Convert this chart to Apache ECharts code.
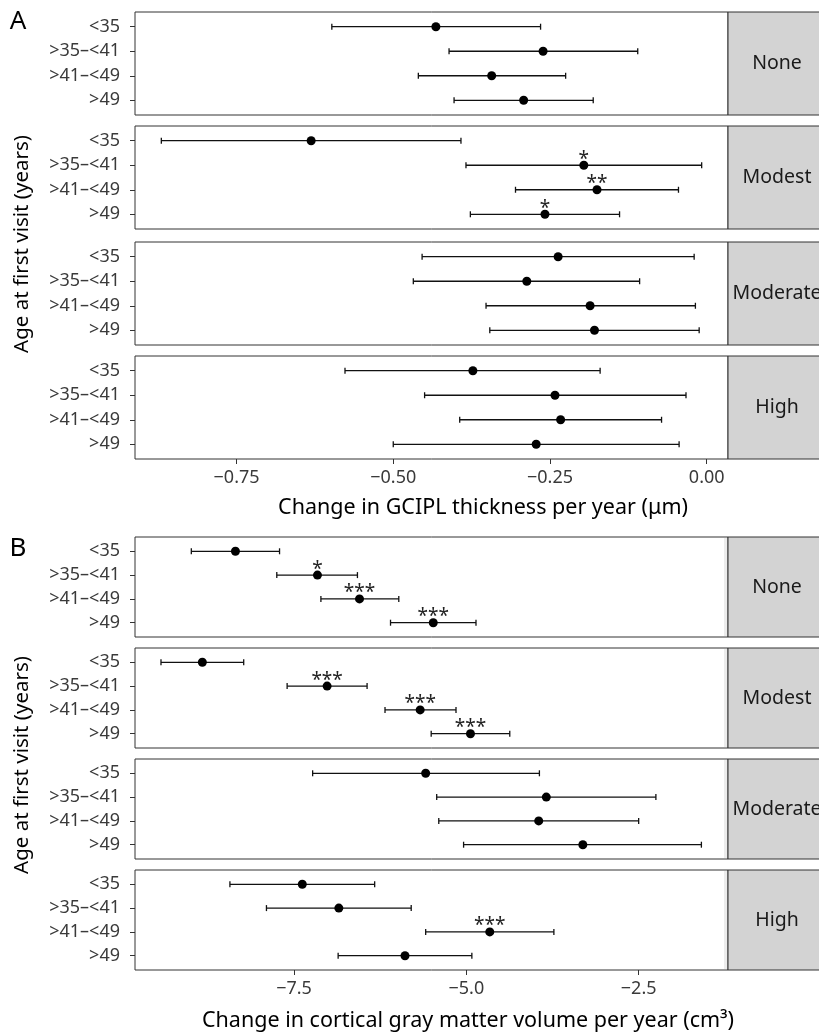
<!DOCTYPE html>
<html>
<head>
<meta charset="utf-8">
<script src="https://cdn.jsdelivr.net/npm/echarts@6/dist/echarts.min.js"></script>
<style>
  html, body { margin: 0; padding: 0; background: #fff; }
  #chart { width: 819px; height: 1034px; }
</style>
</head>
<body>
<div id="chart"></div>
<script>
// categories
const ageGroups = ['<35', '>35–<41', '>41–<49', '>49']
const exposures = ['None', 'Modest', 'Moderate', 'High']

// panel A: GCIPL thickness change (µm / year), one row per exposure
const gciplEst = [
  [-0.432, -0.261, -0.343, -0.292],
  [-0.631, -0.196, -0.175, -0.258],
  [-0.237, -0.287, -0.186, -0.179],
  [-0.373, -0.242, -0.233, -0.272]
]
const gciplLow = [
  [-0.598, -0.411, -0.460, -0.403],
  [-0.870, -0.384, -0.305, -0.377],
  [-0.454, -0.468, -0.352, -0.346],
  [-0.577, -0.450, -0.394, -0.500]
]
const gciplHigh = [
  [-0.265, -0.110, -0.225, -0.181],
  [-0.392, -0.008, -0.045, -0.139],
  [-0.020, -0.107, -0.018, -0.012],
  [-0.170, -0.033, -0.072, -0.044]
]
const gciplStars = [
  ['', '', '', ''],
  ['', '*', '**', '*'],
  ['', '', '', ''],
  ['', '', '', '']
]
const gciplTicks = [-0.75, -0.5, -0.25, 0]

// panel B: cortical gray matter volume change (cm3 / year)
const gmEst = [
  [-8.35, -7.16, -6.55, -5.48],
  [-8.83, -7.02, -5.67, -4.94],
  [-5.59, -3.84, -3.95, -3.31],
  [-7.38, -6.85, -4.66, -5.89]
]
const gmLow = [
  [-8.99, -7.75, -7.11, -6.10],
  [-9.43, -7.60, -6.18, -5.51],
  [-7.23, -5.43, -5.40, -5.04],
  [-8.43, -7.90, -5.59, -6.86]
]
const gmHigh = [
  [-7.71, -6.58, -5.98, -4.86],
  [-8.23, -6.44, -5.15, -4.37],
  [-3.94, -2.25, -2.50, -1.59],
  [-6.33, -5.80, -3.73, -4.92]
]
const gmStars = [
  ['', '*', '***', '***'],
  ['', '***', '***', '***'],
  ['', '', '', ''],
  ['', '', '***', '']
]
const gmTicks = [-7.5, -5, -2.5]

const FONT = 'Noto Sans'

// layout of the two panels
const panels = [
  {
    tag: 'A', tagY: 22,
    tops: [12, 126, 242, 356], height: 103,
    min: -0.912, max: 0.034,
    est: gciplEst, low: gciplLow, high: gciplHigh, stars: gciplStars, ticks: gciplTicks,
    fmt: v => (v < 0 ? '−' : '') + Math.abs(v).toFixed(2),
    xTitle: 'Change in GCIPL thickness per year (μm)', xTitleX: 483, xTitleY: 508, yTitleY: 244
  },
  {
    tag: 'B', tagY: 549,
    tops: [537, 648, 759, 870], height: 100,
    min: -9.807, max: -1.204,
    est: gmEst, low: gmLow, high: gmHigh, stars: gmStars, ticks: gmTicks,
    fmt: v => (v < 0 ? '−' : '') + Math.abs(v).toFixed(1),
    xTitle: 'Change in cortical gray matter volume per year (cm³)', xTitleX: 468, xTitleY: 1021, yTitleY: 765
  }
]

const plotLeft = 135
const plotRight = 728
const stripW = 98

const grid = [], xAxis = [], yAxis = [], series = [], graphic = []

panels.forEach((p, pi) => {
  p.tops.forEach((top, f) => {
    const g = pi * 4 + f
    const bottom = f === 3
    grid.push({
      left: plotLeft, top: top, width: plotRight - plotLeft, height: p.height,
      show: true, backgroundColor: '#fff', borderColor: '#333', borderWidth: 1
    })
    xAxis.push({
      gridIndex: g, type: 'value', min: p.min, max: p.max, position: 'bottom',
      axisLine: { show: false, onZero: false },
      splitLine: { show: false },
      axisTick: { show: bottom, customValues: p.ticks, length: 5, lineStyle: { color: '#333' } },
      axisLabel: {
        show: bottom, customValues: p.ticks, formatter: p.fmt,
        fontFamily: FONT, fontSize: 18, color: '#3a3a3a', margin: 10
      }
    })
    yAxis.push({
      gridIndex: g, type: 'value', inverse: true, min: -0.6, max: 3.6, position: 'left',
      axisLine: { show: false, onZero: false },
      splitLine: { show: false },
      axisTick: { show: true, customValues: [0, 1, 2, 3], length: 5, lineStyle: { color: '#333' } },
      axisLabel: {
        customValues: [0, 1, 2, 3], formatter: v => ageGroups[Math.round(v)],
        fontFamily: FONT, fontSize: 18, color: '#3a3a3a', margin: 15
      }
    })

    // confidence intervals with end caps
    series.push({
      type: 'custom', xAxisIndex: g, yAxisIndex: g,
      data: ageGroups.map((a, i) => [p.low[f][i], p.high[f][i], i]),
      encode: { x: [0, 1], y: 2 },
      renderItem(params, api) {
        const y = api.value(2)
        const a = api.coord([api.value(0), y])
        const b = api.coord([api.value(1), y])
        const st = { stroke: '#111', lineWidth: 1.3 }
        return {
          type: 'group',
          children: [
            { type: 'line', shape: { x1: a[0], y1: a[1], x2: b[0], y2: b[1] }, style: st },
            { type: 'line', shape: { x1: a[0], y1: a[1] - 3, x2: a[0], y2: a[1] + 3 }, style: st },
            { type: 'line', shape: { x1: b[0], y1: b[1] - 3, x2: b[0], y2: b[1] + 3 }, style: st }
          ]
        }
      },
      silent: true, z: 2
    })

    // point estimates with significance stars
    series.push({
      type: 'scatter', xAxisIndex: g, yAxisIndex: g,
      data: p.est[f].map((v, i) => [v, i, p.stars[f][i]]),
      symbolSize: 9,
      itemStyle: { color: '#000', opacity: 1 },
      label: {
        show: true, position: 'top', distance: -8,
        formatter: d => d.data[2],
        fontFamily: FONT, fontSize: 19, color: '#222'
      },
      silent: true, z: 3
    })

    // facet strip on the right
    graphic.push({
      type: 'rect',
      shape: { x: plotRight, y: top, width: stripW, height: p.height },
      style: { fill: '#d3d3d3', stroke: '#333', lineWidth: 1 },
      z: 10
    })
    graphic.push({
      type: 'text',
      x: plotRight + stripW / 2, y: top + p.height / 2,
      style: {
        text: exposures[f], fontFamily: FONT, fontSize: 19.5, fill: '#1a1a1a',
        align: 'center', verticalAlign: 'middle'
      },
      z: 11
    })
    if (pi === 1) {
      graphic.push({
        type: 'rect',
        shape: { x: plotRight - 4, y: top + 1, width: 3, height: p.height - 2 },
        style: { fill: '#ececec' },
        z: 9
      })
    }
  })

  graphic.push({
    type: 'text', x: 18, y: p.tagY,
    style: { text: p.tag, fontFamily: FONT, fontSize: 26, fill: '#000', align: 'center', verticalAlign: 'middle' }
  })
  graphic.push({
    type: 'text', x: 22, y: p.yTitleY, rotation: Math.PI / 2,
    style: {
      text: 'Age at first visit (years)', fontFamily: FONT, fontSize: 20.5, fill: '#000',
      align: 'center', verticalAlign: 'middle'
    }
  })
  graphic.push({
    type: 'text', x: p.xTitleX, y: p.xTitleY,
    style: {
      text: p.xTitle, fontFamily: FONT, fontSize: 21.5, fill: '#000',
      align: 'center', verticalAlign: 'middle'
    }
  })
})

const chart = echarts.init(document.getElementById('chart'), null, { renderer: 'canvas' })
chart.setOption({
  backgroundColor: '#fff',
  animation: false,
  grid, xAxis, yAxis, series, graphic
})
</script>
</body>
</html>
